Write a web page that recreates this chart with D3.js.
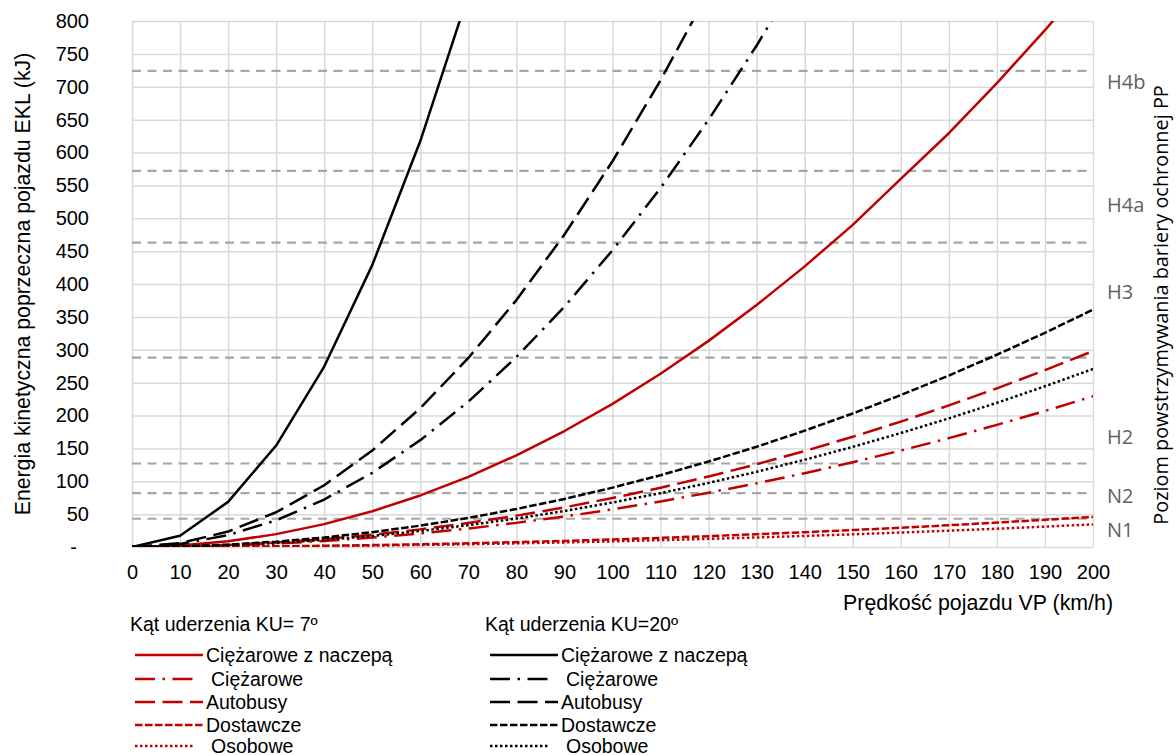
<!DOCTYPE html>
<html><head><meta charset="utf-8">
<script src="https://cdn.jsdelivr.net/npm/d3@7"></script>
<style>
body{margin:0;background:#fff;}
svg text{font-family:Arial,"Liberation Sans",sans-serif;fill:#000;}
</style></head><body>
<svg id="chart" width="1176" height="755"></svg>
<script>
// ---------- data ----------
const speeds = [0,10,20,30,40,50,60,70,80,90,100,110,120,130,140,150,160,170,180,190,200];
// impact angle 20 deg (black)
const e20Trailer   = [0,17.1,68.6,154.3,274.4,428.7,617.4,840.3];
const e20Truck     = [0,4.5,18.1,40.6,72.2,112.8,162.5,221.1,288.8,365.6,451.3,546.1,649.9,762.7,884.6];
const e20Bus       = [0,5.9,23.5,52.8,93.9,146.7,211.2,287.5,375.5,475.2,586.7,709.9,844.8];
const e20Van       = [0,0.9,3.6,8.1,14.4,22.6,32.5,44.2,57.8,73.1,90.3,109.2,130.0,152.5,176.9,203.1,231.1,260.8,292.4,325.8,361.0];
const e20Car       = [0,0.7,2.7,6.1,10.8,16.9,24.4,33.2,43.3,54.8,67.7,81.9,97.5,114.4,132.7,152.3,173.3,195.6,219.3,244.4,270.8];
// impact angle 7 deg (red)
const e7Trailer    = [0,2.2,8.7,19.6,34.8,54.4,78.4,106.7,139.4,176.4,217.7,263.5,313.5,368.0,426.8,489.9,560.0,629.3,705.5,786.0,870.9];
const e7Truck      = [0,0.6,2.3,5.2,9.2,14.3,20.6,28.1,36.7,46.4,57.3,69.3,82.5,96.8,112.3,128.9,146.7,165.6,185.7,206.9,229.2];
const e7Bus        = [0,0.7,3.0,6.7,11.9,18.6,26.8,36.5,47.7,60.3,74.5,90.1,107.3,125.9,146.0,167.6,190.7,215.3,241.3,268.9,298.0];
const e7Van        = [0,0.1,0.5,1.0,1.8,2.9,4.1,5.6,7.3,9.3,11.5,13.9,16.5,19.4,22.5,25.8,29.3,33.1,37.1,41.4,45.8];
const e7Car        = [0,0.1,0.3,0.8,1.4,2.1,3.1,4.2,5.5,7.0,8.6,10.4,12.4,14.5,16.8,19.3,22.0,24.8,27.8,31.0,34.4];

const vehicleNames = ["Ciężarowe z naczepą","Ciężarowe","Autobusy","Dostawcze","Osobowe"];
const groupTitles  = ["Kąt uderzenia KU= 7º","Kąt uderzenia KU=20º"];
const xTicks = [0,10,20,30,40,50,60,70,80,90,100,110,120,130,140,150,160,170,180,190,200];
const yTicks = [0,50,100,150,200,250,300,350,400,450,500,550,600,650,700,750,800];
const levelValues = [43,82,127,288,463,572,724];
const labelNames  = ["N1","N2","H2","H3","H4a","H4b"];
const labelValues = [26,78,168,388,520,707];
const xTitle = "Prędkość pojazdu VP (km/h)";
const yTitle = "Energia kinetyczna poprzeczna pojazdu EKL (kJ)";
const y2Title = "Poziom powstrzymywania bariery ochronnej PP";

// ---------- layout ----------
const W = 1176, H = 755;
const m = {left:132, top:21, right:1093, bottom:547};
const RED = "#C00000", BLACK = "#000000";
const SW = 2.5;
const dashes = ["", "20,7.5,2.5,7.5", "20,7.5", "7.5,2.5", "2.5,2.5"];
const TICK_FS = 20, LEG_FS = 19.5;

const svg = d3.select("#chart");
const x = d3.scaleLinear().domain([0,200]).range([m.left, m.right]);
const y = d3.scaleLinear().domain([0,800]).range([m.bottom, m.top]);

// grid
svg.append("g").attr("transform",`translate(0,${m.bottom})`)
  .call(d3.axisBottom(x).tickValues(xTicks).tickSize(-(m.bottom-m.top)).tickFormat(""))
  .call(g=>{g.select(".domain").remove(); g.selectAll("line").attr("stroke","#D9D9D9").attr("stroke-width",1.5);});
svg.append("g").attr("transform",`translate(${m.left},0)`)
  .call(d3.axisLeft(y).tickValues(yTicks).tickSize(-(m.right-m.left)).tickFormat(""))
  .call(g=>{g.select(".domain").remove(); g.selectAll("line").attr("stroke","#D9D9D9").attr("stroke-width",1.5);});

// containment level reference lines
svg.append("g").selectAll("line").data(levelValues).join("line")
  .attr("x1",m.left).attr("x2",m.right)
  .attr("y1",d=>y(d)).attr("y2",d=>y(d))
  .attr("stroke","#A6A6A6").attr("stroke-width",2.2).attr("stroke-dasharray","9,6.5");

// axes labels
const ya = svg.append("g").attr("transform",`translate(${m.left},0)`)
  .call(d3.axisLeft(y).tickValues(yTicks).tickSize(0).tickPadding(43).tickFormat(d=>d===0?"-":d));
ya.select(".domain").remove();
ya.selectAll("text").attr("font-size",TICK_FS).attr("font-family","Arial, 'Liberation Sans', sans-serif").attr("fill","#000");
ya.selectAll("text").filter(d=>d===0).attr("x",-55);

const xa = svg.append("g").attr("transform",`translate(0,${m.bottom})`)
  .call(d3.axisBottom(x).tickValues(xTicks).tickSize(0).tickPadding(18));
xa.select(".domain").remove();
xa.selectAll("text").attr("font-size",TICK_FS).attr("font-family","Arial, 'Liberation Sans', sans-serif").attr("fill","#000");

// series
const series = [
  {vals:e7Trailer, color:RED, dash:dashes[0]},
  {vals:e7Truck,   color:RED, dash:dashes[1]},
  {vals:e7Bus,     color:RED, dash:dashes[2]},
  {vals:e7Van,     color:RED, dash:dashes[3]},
  {vals:e7Car,     color:RED, dash:dashes[4]},
  {vals:e20Trailer,color:BLACK, dash:dashes[0]},
  {vals:e20Truck,  color:BLACK, dash:dashes[1]},
  {vals:e20Bus,    color:BLACK, dash:dashes[2]},
  {vals:e20Van,    color:BLACK, dash:dashes[3]},
  {vals:e20Car,    color:BLACK, dash:dashes[4]},
];
svg.append("clipPath").attr("id","clip").append("rect")
  .attr("x",m.left).attr("y",m.top).attr("width",m.right-m.left).attr("height",m.bottom-m.top);
const line = d3.line().x((d,i)=>x(speeds[i])).y(d=>y(d));
svg.append("g").attr("clip-path","url(#clip)").selectAll("path").data(series).join("path")
  .attr("d",d=>line(d.vals)).attr("fill","none")
  .attr("stroke",d=>d.color).attr("stroke-width",SW)
  .attr("stroke-dasharray",d=>d.dash||null).attr("stroke-linejoin","round");

// level labels
svg.append("g").selectAll("text").data(labelNames).join("text")
  .attr("x",1107).attr("y",(d,i)=>y(labelValues[i])).attr("dy","0.35em")
  .attr("font-size",20).style("fill","#616161")
  .style("font-family","Open Sans, sans-serif")
  .text(d=>d);

// titles
function fit(t, target){
  const fs = +t.attr("font-size");
  const len = t.node().getComputedTextLength();
  t.attr("font-size", fs*target/len);
}
const yt = svg.append("text").attr("transform",`translate(23,284) rotate(-90)`)
  .attr("text-anchor","middle").attr("dy","0.35em").attr("font-size",19).text(yTitle);
fit(yt,463);
const y2t = svg.append("text").attr("transform",`translate(1161,305) rotate(-90)`)
  .attr("text-anchor","middle").attr("dy","0.35em").attr("font-size",20)
  .style("font-family","Open Sans, sans-serif").text(y2Title);
fit(y2t,440);
const xt = svg.append("text").attr("x",1113).attr("y",603).attr("text-anchor","end")
  .attr("dy","0.35em").attr("font-size",19).text(xTitle);
fit(xt,270);

// legend
const legendCols = [{x0:130, color:RED},{x0:485, color:BLACK}];
const rowY = [655,679,702,725,746];
const sampleLen = [68,60,68,68,60];
const textOff = [76,81,76,76,81];
legendCols.forEach((c,ci)=>{
  const g = svg.append("g");
  g.append("text").attr("x",c.x0).attr("y",624).attr("dy","0.35em").attr("font-size",LEG_FS).text(groupTitles[ci]);
  vehicleNames.forEach((n,i)=>{
    g.append("line").attr("x1",c.x0+5).attr("x2",c.x0+5+sampleLen[i])
      .attr("y1",rowY[i]).attr("y2",rowY[i]).attr("stroke",c.color).attr("stroke-width",SW)
      .attr("stroke-dasharray",dashes[i]||null);
    g.append("text").attr("x",c.x0+textOff[i]).attr("y",rowY[i]).attr("dy","0.35em")
      .attr("font-size",LEG_FS).text(n);
  });
});
</script>
</body></html>
